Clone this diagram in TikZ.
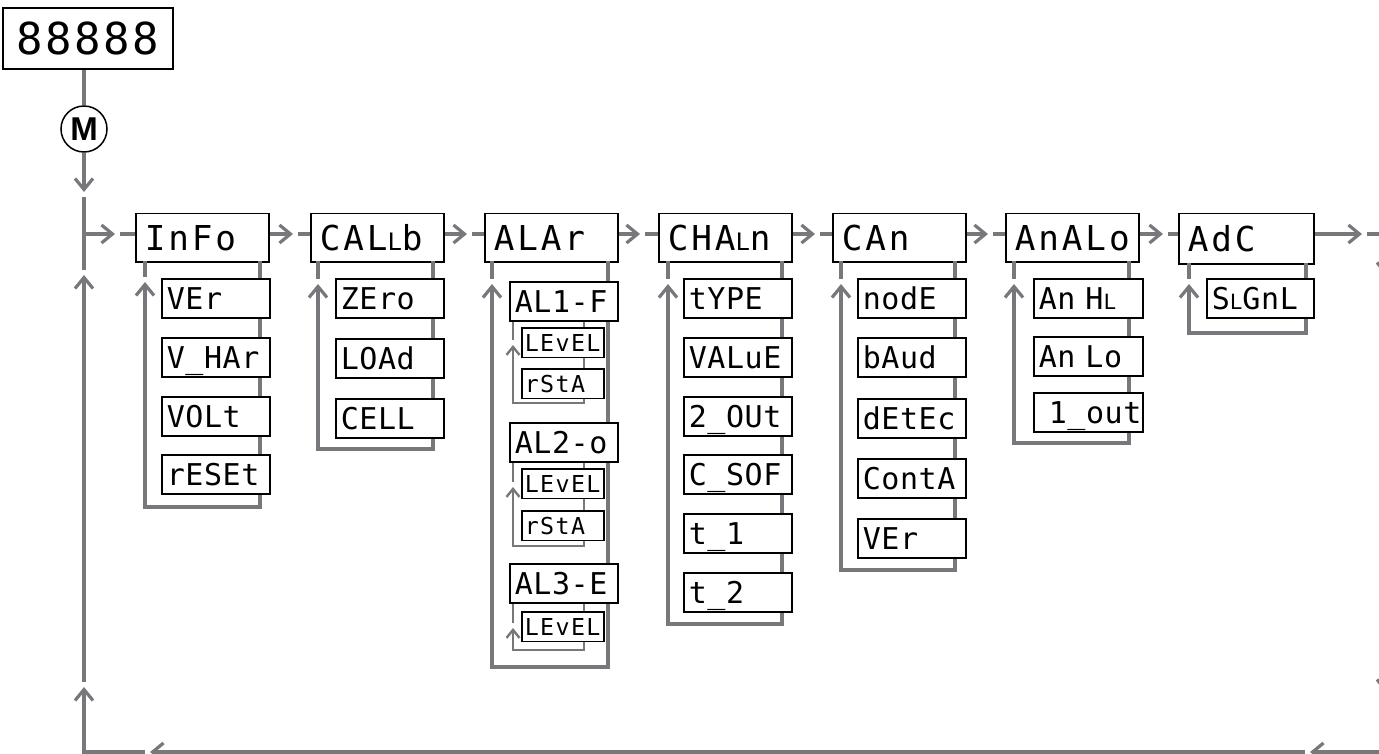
\documentclass[tikz,border=0pt]{standalone}
\usepackage{fontspec}
\usetikzlibrary{arrows.meta}
\newfontfamily\segMfam{DejaVu Sans Mono}[LetterSpace=8.5]
\newfontfamily\segSfam{DejaVu Sans Mono}[LetterSpace=2]
\newfontfamily\segTfam{DejaVu Sans Mono}[LetterSpace=6]
\newfontfamily\segDfam{DejaVu Sans Mono}[LetterSpace=5.5]
\newfontfamily\Mfam{Liberation Sans}
\newcommand\fontMain{\segMfam\fontsize{34.3pt}{36pt}\selectfont}
\newcommand\fontSub{\segSfam\fontsize{30pt}{32pt}\selectfont}
\newcommand\fontSmall{\segTfam\fontsize{23.3pt}{25pt}\selectfont}
\newcommand\fontDisp{\segDfam\fontsize{44pt}{46pt}\selectfont}
\newcommand\fontM{\Mfam\bfseries\fontsize{33pt}{33pt}\selectfont}
\newcommand\lowLm{{\fontsize{24pt}{24pt}\selectfont L}}
\newcommand\lowLs{{\fontsize{21pt}{21pt}\selectfont L}}
\definecolor{lc}{RGB}{120,120,124}
\tikzset{
 conn/.style={draw=lc, line width=3.2pt},
 arr/.style={conn, -{Straight Barb[length=11pt,width=18pt]}},
 iconn/.style={draw=lc, line width=2.4pt},
 iarr/.style={iconn, -{Straight Barb[length=8pt,width=13pt]}},
 box/.style={draw=black, line width=1.5pt, fill=white, inner ysep=0pt, text depth=0pt, align=left},
 mainbox/.style={box, anchor=north west, minimum height=48pt, text height=25pt, inner xsep=9pt, text width=115pt, font=\fontMain},
 subbox/.style={box, anchor=north west, minimum height=39pt, text height=22pt, inner xsep=5pt, text width=98pt, font=\fontSub},
 smallbox/.style={box, anchor=north west, minimum height=29.5pt, text height=17pt, inner xsep=3pt, text width=76pt, font=\fontSmall},
}
\newcommand\loopback[7]{%
 \coordinate (#1-rt) at (#3,#4);
 \coordinate (#1-rb) at (#3,#5);
 \coordinate (#1-lb) at (#2,#5);
 \coordinate (#1-tip) at (#2,#6);
 \coordinate (#1-lt) at (#2,#4);
 \coordinate (#1-st) at (#2,#6-5);
 \draw[#7arr] (#1-rt) -- (#1-rb) -- (#1-lb) -- (#1-tip);
 \draw[#7conn] (#1-lt) -- (#1-st);
}
\newcommand\hlink[4]{%
 \coordinate (#4-t) at (#3,234);
 \coordinate (#4-s) at (#3+5,234);
 \draw[arr] (#1 |- #4-t) -- (#4-t);
 \draw[conn] (#4-s) -- (#2.west |- #4-s);
}
\begin{document}
\begin{tikzpicture}[x=1pt,y=-1pt]
\useasboundingbox (0,0) rectangle (1379,754);
\clip (0,0) rectangle (1379,754);

% top display and M key
\node[box, align=center, font=\fontDisp, minimum width=170pt, minimum height=61pt, text height=32pt, inner xsep=0pt] (disp) at (88,38.5) {88888};
\node[circle, draw=black, line width=1.5pt, fill=white, minimum size=46pt, inner sep=0pt, font=\fontM] (M) at (84,129) {M};

% main boxes
\node[mainbox] (info)  at (135,213)  {InFo};
\node[mainbox] (callb) at (310,213)  {CAL\lowLm b};
\node[mainbox] (alar)  at (484,213)  {ALAr};
\node[mainbox] (chaln) at (658,213)  {CHA\lowLm n};
\node[mainbox] (can)   at (832,213)  {CAn};
\node[mainbox] (analo) at (1005,213) {AnALo};
\node[mainbox, text width=117pt, minimum height=50pt] (adc) at (1178,213) {AdC};

% main line
\coordinate (mtip) at (84,192);
\coordinate (mtop) at (84,197);
\coordinate (j0) at (84,234);
\coordinate (lst) at (84,270);
\draw[conn] (M.north |- disp.south) -- (M.north);
\draw[arr] (M.south) -- (mtip);
\draw[conn] (mtop) -- (lst);

\hlink{j0}{info}{115}{h0}
\hlink{info.east}{callb}{293}{h1}
\hlink{callb.east}{alar}{467}{h2}
\hlink{alar.east}{chaln}{640}{h3}
\hlink{chaln.east}{can}{815}{h4}
\hlink{can.east}{analo}{988}{h5}
\hlink{analo.east}{adc}{1163}{h6}

% return path
\coordinate (rtip) at (1362,234);
\coordinate (rs) at (1367,234);
\coordinate (rc1) at (1386,234);
\coordinate (rt1) at (1386,276);
\coordinate (rs2) at (1386,281);
\coordinate (rt2) at (1386,693);
\coordinate (rs3) at (1386,698);
\coordinate (rc2) at (1386,752);
\coordinate (bt1) at (1310,752);
\coordinate (bs1) at (1305,752);
\coordinate (bt2) at (150,752);
\coordinate (bs2) at (145,752);
\coordinate (lcor) at (84,752);
\coordinate (lt1) at (84,687);
\coordinate (ls1) at (84,682);
\coordinate (lt2) at (84,275);
\draw[arr] (adc.east |- rtip) -- (rtip);
\draw[arr] (rs) -- (rc1) -- (rt1);
\draw[arr] (rs2) -- (rt2);
\draw[arr] (rs3) -- (rc2) -- (bt1);
\draw[arr] (bs1) -- (bt2);
\draw[arr] (bs2) -- (lcor) -- (lt1);
\draw[arr] (ls1) -- (lt2);

% sub loops
\loopback{linfo}{145}{260}{261}{507}{282}{}
\loopback{lcallb}{318}{433}{261}{449}{284}{}
\loopback{lalar}{492}{608}{261}{667}{284}{}
\loopback{lchaln}{668}{782}{261}{624}{284}{}
\loopback{lcan}{841}{955}{261}{570}{284}{}
\loopback{lanalo}{1014}{1129}{261}{443}{284}{}
\loopback{ladc}{1189}{1306}{263}{333}{284}{}
\loopback{lal1}{513}{584}{319}{403}{345}{i}
\loopback{lal2}{513}{584}{461}{546}{487}{i}
\loopback{lal3}{513}{584}{602}{650}{628}{i}

% InFo subs
\node[subbox] (ver)   at (161,278) {VEr};
\node[subbox] (vhar)  at (161,337) {V\_HAr};
\node[subbox] (volt)  at (161,396) {VOLt};
\node[subbox] (reset) at (161,454) {rESEt};
% CALLb subs
\node[subbox] (zero) at (335,278) {ZEro};
\node[subbox] (load) at (335,338) {LOAd};
\node[subbox] (cell) at (335,398) {CELL};
% ALAr subs
\node[subbox] (alone)   at (509,281) {AL1-F};
\node[smallbox] (levA)  at (521,327) {LEvEL};
\node[smallbox] (rstaA) at (521,368) {rStA};
\node[subbox] (altwo)   at (509,422) {AL2-o};
\node[smallbox] (levB)  at (521,468) {LEvEL};
\node[smallbox] (rstaB) at (521,510) {rStA};
\node[subbox] (althree) at (509,563) {AL3-E};
\node[smallbox] (levC)  at (521,611) {LEvEL};
% CHALn subs
\node[subbox] (type)  at (683,278) {tYPE};
\node[subbox] (value) at (683,337) {VALuE};
\node[subbox] (out2)  at (683,396) {2\_OUt};
\node[subbox] (csof)  at (683,454) {C\_SOF};
\node[subbox] (tone)  at (683,513) {t\_1};
\node[subbox] (ttwo)  at (683,572) {t\_2};
% CAn subs
\node[subbox] (node)  at (857,278) {nodE};
\node[subbox] (baud)  at (857,337) {bAud};
\node[subbox] (detec) at (857,398) {dEtEc};
\node[subbox] (conta) at (857,458) {ContA};
\node[subbox] (cver)  at (857,518) {VEr};
% AnALo subs
\node[subbox, text width=99pt] (anhi) at (1033,278) {An H\lowLs};
\node[subbox, text width=99pt] (anlo) at (1033,336) {An Lo};
\node[subbox, text width=99pt] (iout) at (1033,392) {\hspace*{10pt}1\_out};
% AdC sub
\node[subbox, text width=97pt] (signl) at (1206,278) {S\lowLs GnL};
\end{tikzpicture}
\end{document}
